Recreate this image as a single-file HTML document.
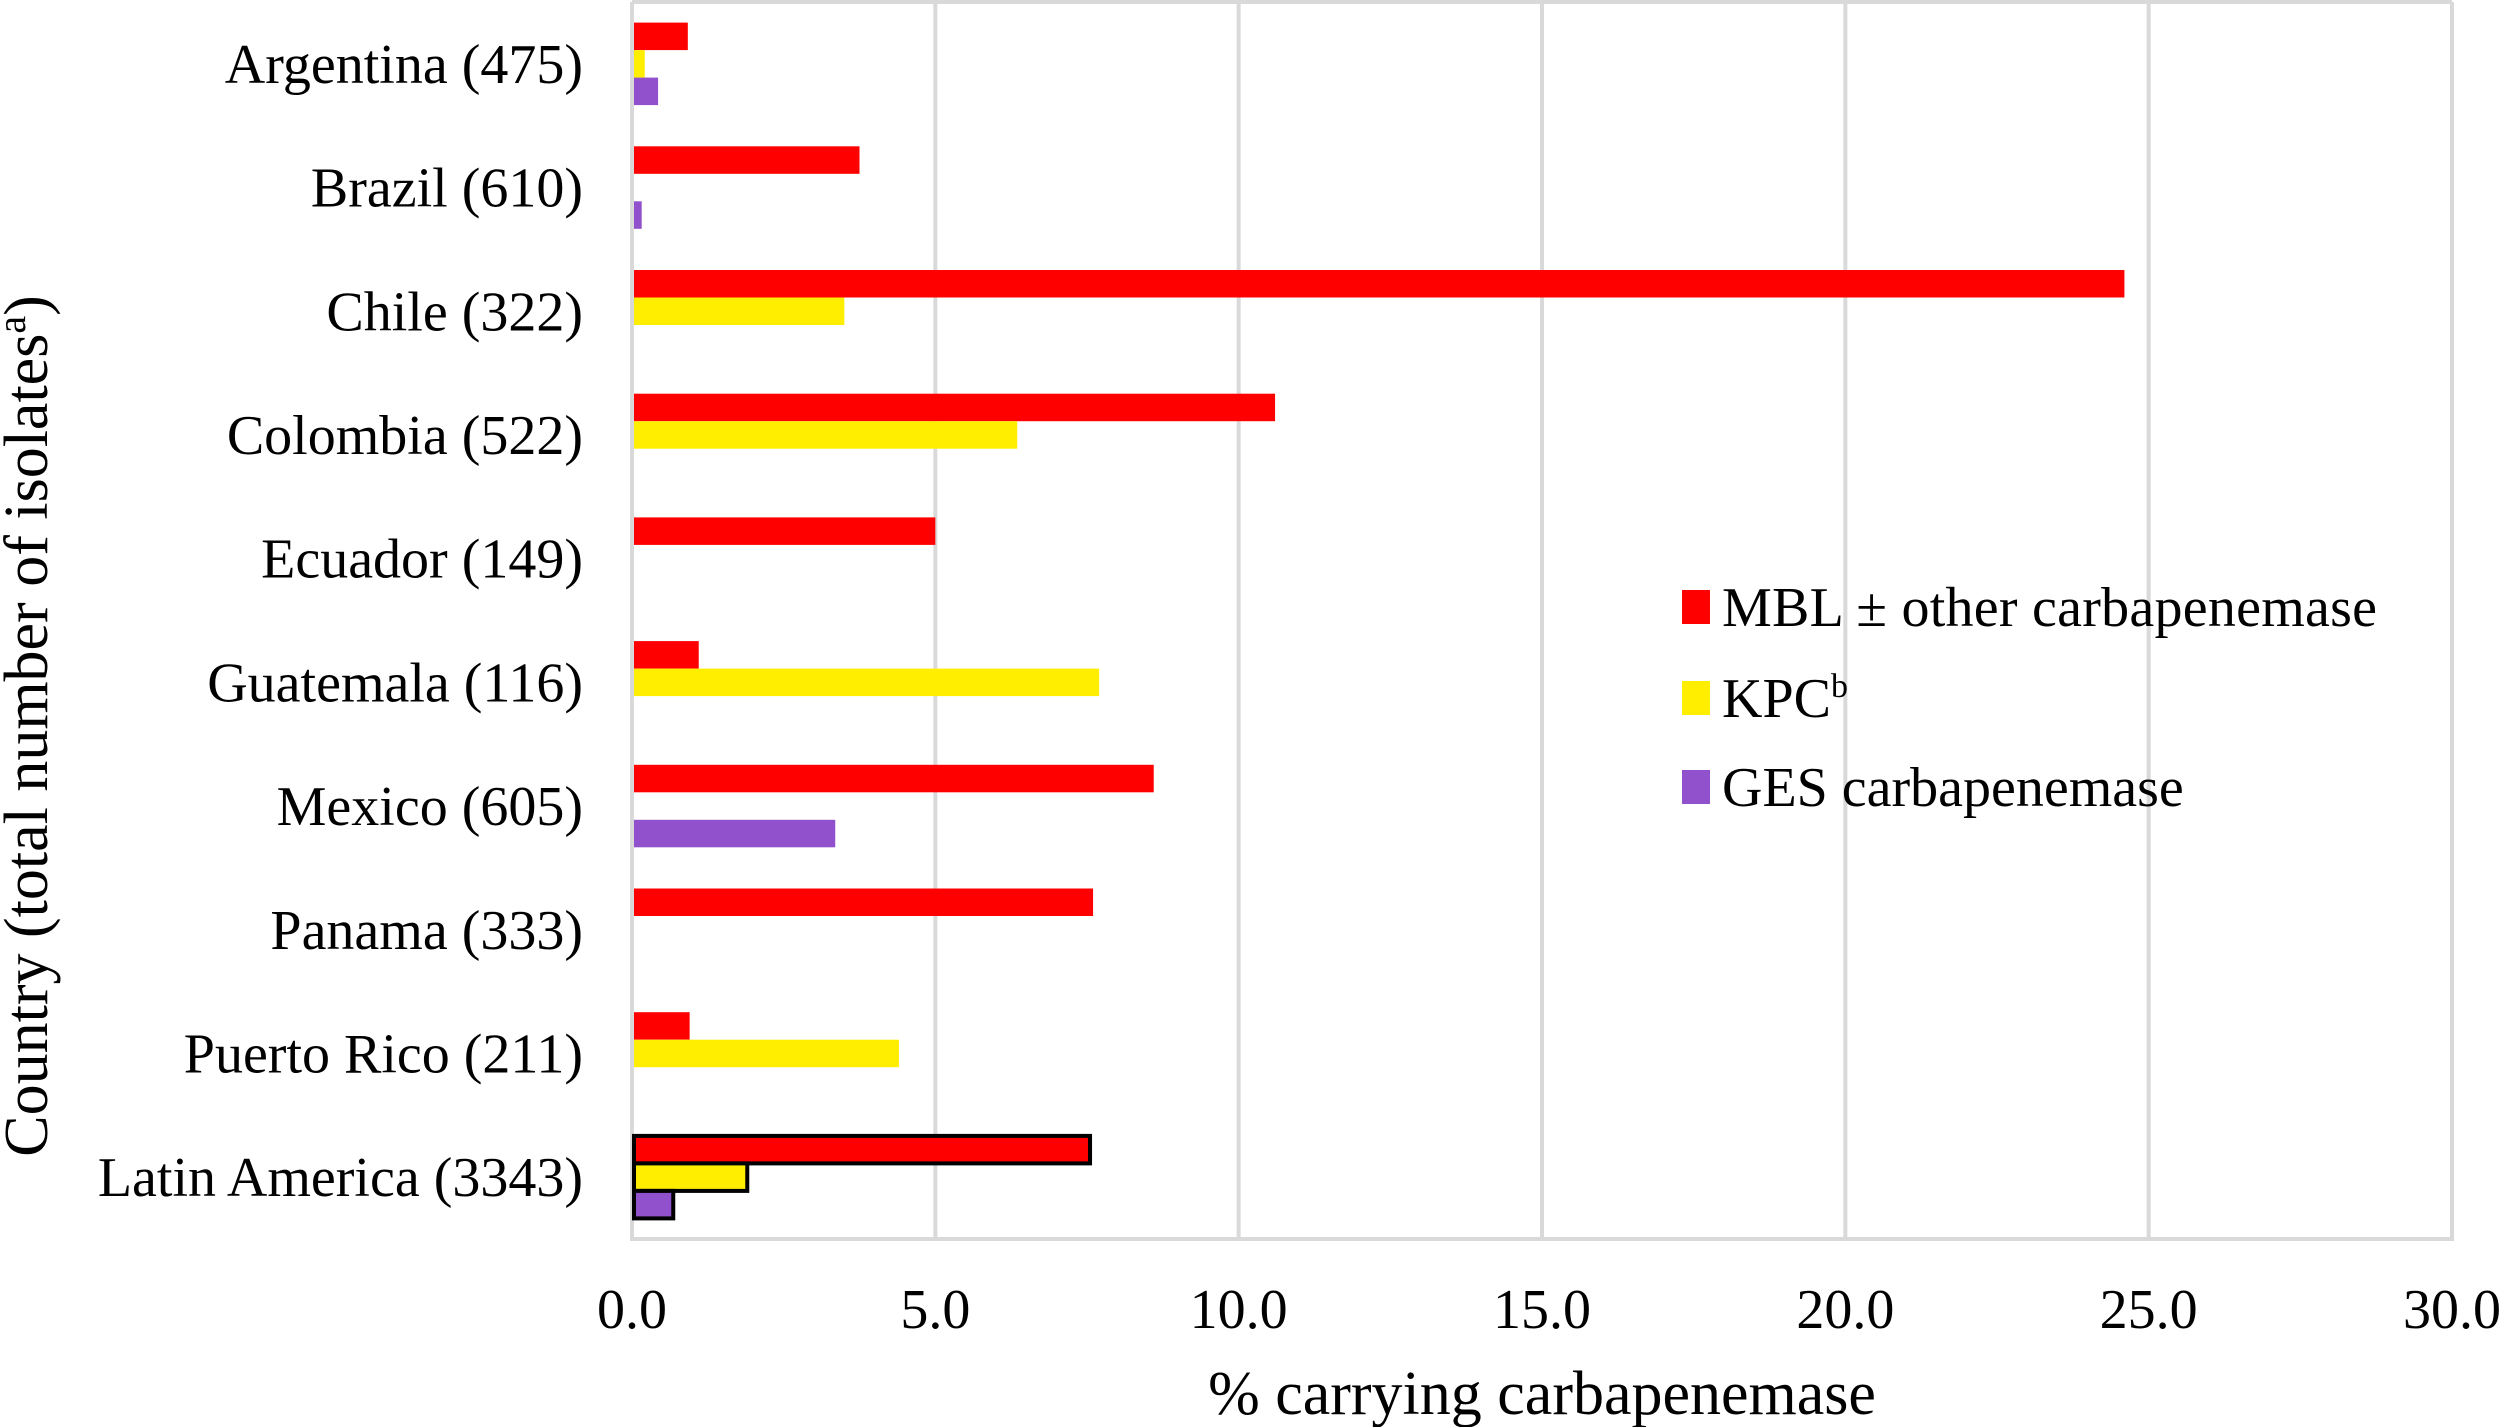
<!DOCTYPE html>
<html><head><meta charset="utf-8"><style>
html,body{margin:0;padding:0;background:#fff;}
svg{display:block;font-family:"Liberation Serif",serif;}
</style></head><body>
<svg id="chart" width="2500" height="1427" viewBox="0 0 2500 1427" xmlns="http://www.w3.org/2000/svg">
<g id="grid"></g>
<g id="bars"></g>
<g id="ylabels"></g>
<g id="xlabels"></g>
<text x="1542" y="1414" font-size="62" text-anchor="middle">% carrying carbapenemase</text>
<text transform="translate(47,726) rotate(-90)" font-size="62" text-anchor="middle">Country (total number of isolates<tspan font-size="40" dy="-22">a</tspan><tspan dy="22">)</tspan></text>
<g>
<rect x="1682" y="590" width="28" height="34" fill="#ff0000"/>
<text x="1722" y="626" font-size="56" textLength="655">MBL ± other carbapenemase</text>
<rect x="1682" y="681" width="28" height="34" fill="#ffee00"/>
<text x="1722" y="717" font-size="56">KPC<tspan font-size="34" dy="-20">b</tspan></text>
<rect x="1682" y="770" width="28" height="34" fill="#9150cc"/>
<text x="1722" y="806" font-size="56">GES carbapenemase</text>
</g>
</svg>
<script>
const categories = ["Argentina (475)","Brazil (610)","Chile (322)","Colombia (522)","Ecuador (149)","Guatemala (116)","Mexico (605)","Panama (333)","Puerto Rico (211)","Latin America (3343)"];
const mblValues = [0.92,3.75,24.6,10.6,5.0,1.1,8.6,7.6,0.95,7.55];
const kpcValues = [0.21,0,3.5,6.35,0,7.7,0,0,4.4,1.9];
const gesValues = [0.43,0.16,0,0,0,0,3.35,0,0,0.68];
const xTicks = ["0.0","5.0","10.0","15.0","20.0","25.0","30.0"];
const xTickValues = [0,5,10,15,20,25,30];

const NS="http://www.w3.org/2000/svg";
const L=632,R=2452,T=2,B=1239,XMAX=30;
const xs=v=>L+(v/XMAX)*(R-L);
const band=(B-T)/categories.length;
const yc=i=>T+band*(i+0.5);
function mk(tag,attrs,parent){const e=document.createElementNS(NS,tag);for(const k in attrs)e.setAttribute(k,attrs[k]);parent.appendChild(e);return e;}
const grid=document.getElementById('grid'),bars=document.getElementById('bars'),yl=document.getElementById('ylabels'),xl=document.getElementById('xlabels');
xTickValues.forEach((v,i)=>{
  const g=mk('line',{x1:xs(v),x2:xs(v),y1:T,y2:B,stroke:'#d9d9d9','stroke-width':4},grid);
  
  
  const t=mk('text',{x:xs(v),y:1328,'font-size':56,'text-anchor':'middle'},xl);
  t.textContent=xTicks[i];
  
  
});
const h1=mk('line',{x1:L,x2:R,y1:T,y2:T,stroke:'#d9d9d9','stroke-width':4},grid);


const h2=mk('line',{x1:L-2,x2:R+2,y1:B,y2:B,stroke:'#d9d9d9','stroke-width':4},grid);


const series=[[mblValues,'#ff0000','mbl'],[kpcValues,'#ffee00','kpc'],[gesValues,'#9150cc','ges']];
const bh=27.5;
categories.forEach((c,i)=>{
  const last=i===categories.length-1;
  series.forEach((s,j)=>{
    const v=s[0][i]; if(!v) return;
    const y=yc(i)-1.5*bh+j*bh;
    const r=mk('rect',{x:L+2,y:y,width:xs(v)-L-2,height:bh,fill:s[1]},bars);
    if(last){r.setAttribute('stroke','#000');r.setAttribute('stroke-width',4);}
    
    
  });
  const t=mk('text',{x:583,y:yc(i)+19,'font-size':56,'text-anchor':'end'},yl);
  t.textContent=c;
  
  
});
</script>
</body></html>
